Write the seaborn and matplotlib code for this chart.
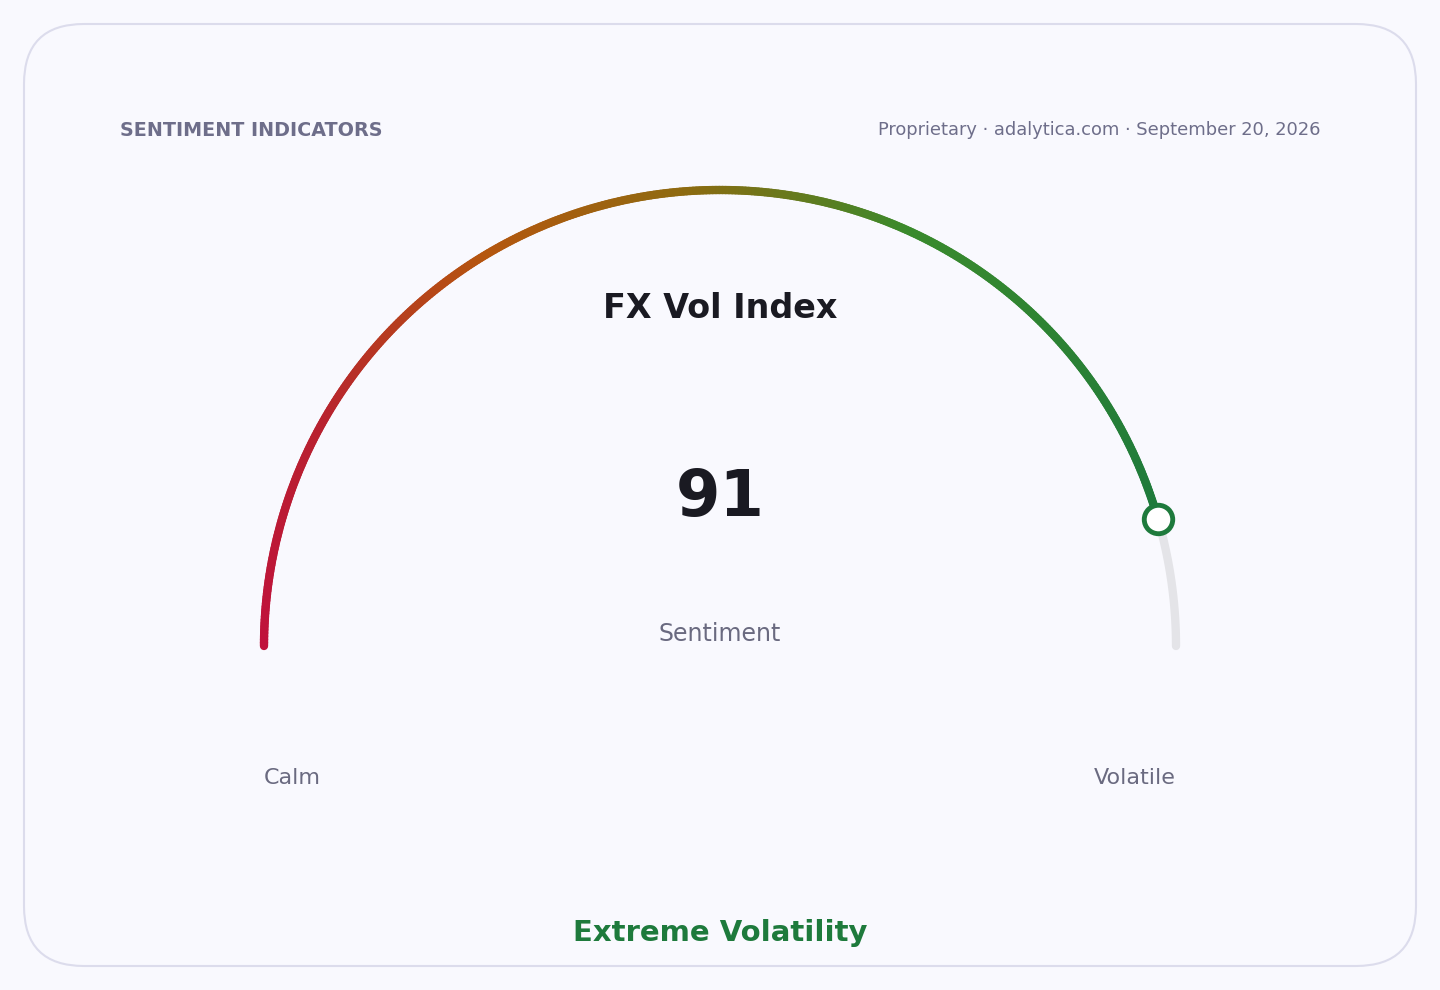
import numpy as np
import pandas as pd
import seaborn as sns
import matplotlib
matplotlib.use("Agg")
import matplotlib.pyplot as plt
from matplotlib.collections import LineCollection
from matplotlib.patches import FancyBboxPatch
from matplotlib.colors import LinearSegmentedColormap

title = "FX Vol Index"
value = 91
vmin, vmax = 0, 100
subtitle = "Sentiment"
low_label, high_label = "Calm", "Volatile"
status = "Extreme Volatility"
header_left = "SENTIMENT INDICATORS"
header_right = "Proprietary · adalytica.com · September 20, 2026"
grad_stops = [0.0, 0.18, 0.36, 0.52, 0.70, 1.0]
grad_colors = ["#c0123c", "#b8222f", "#b5560f", "#8f6a10", "#3a8a2c", "#1e7a3c"]

sns.set_theme(style="white")
plt.rcParams['font.family'] = ['DejaVu Sans']
fig = plt.figure(figsize=(14.4, 9.9), dpi=100)
fig.patch.set_facecolor("#f9f9fe")
ax = fig.add_axes([0, 0, 1, 1])
ax.set_xlim(0, 1440); ax.set_ylim(990, 0); ax.axis("off")
ax.set_facecolor("#f9f9fe")

ax.add_patch(FancyBboxPatch((24, 24), 1392, 942, boxstyle="round,pad=0,rounding_size=60",
                            fc="#f9f9fe", ec="#dcdcec", lw=1.5))

cx, cy, r = 720, 646, 456
def ang(v):
    return np.pi * (1 - (v - vmin) / (vmax - vmin))

t = np.linspace(ang(value), 0, 100)
track = pd.DataFrame({"x": cx + r*np.cos(t), "y": cy - r*np.sin(t)})
sns.lineplot(data=track, x="x", y="y", sort=False, color="#e4e4e8", lw=6, ax=ax,
             solid_capstyle="round", legend=False)

cmap = LinearSegmentedColormap.from_list("g", list(zip(grad_stops, grad_colors)))
vs = np.linspace(vmin, value, 400)
th = ang(vs)
px, py = cx + r*np.cos(th), cy - r*np.sin(th)
pts = np.array([px, py]).T.reshape(-1, 1, 2)
segs = np.concatenate([pts[:-1], pts[1:]], axis=1)
lc = LineCollection(segs, colors=cmap(vs[:-1] / value), lw=6, capstyle="round")
ax.add_collection(lc)

mx, my = cx + r*np.cos(ang(value)), cy - r*np.sin(ang(value))
ax.scatter([mx], [my], s=420, facecolor="white", edgecolor="#1e7a3c", lw=3.5, zorder=5)

ax.text(120, 130, header_left, fontsize=13.8, fontweight="bold", color="#6e6e8a", va="center", ha="left")
ax.text(1320, 130, header_right, fontsize=12.9, color="#6e6e8a", va="center", ha="right")
ax.text(720, 309, title, fontsize=24, fontweight="bold", color="#1a1a22", ha="center", va="center")
ax.text(720, 498, str(value), fontsize=46, fontweight="bold", color="#1a1a22", ha="center", va="center")
ax.text(720, 634, subtitle, fontsize=17, color="#6a6a80", ha="center", va="center")
ax.text(264, 778, low_label, fontsize=16, color="#6a6a80", ha="left", va="center")
ax.text(1176, 778, high_label, fontsize=16, color="#6a6a80", ha="right", va="center")
ax.text(720, 933, status, fontsize=21, fontweight="bold", color="#1e7a3c", ha="center", va="center")

fig.savefig("out.png", dpi=100, facecolor=fig.get_facecolor())
